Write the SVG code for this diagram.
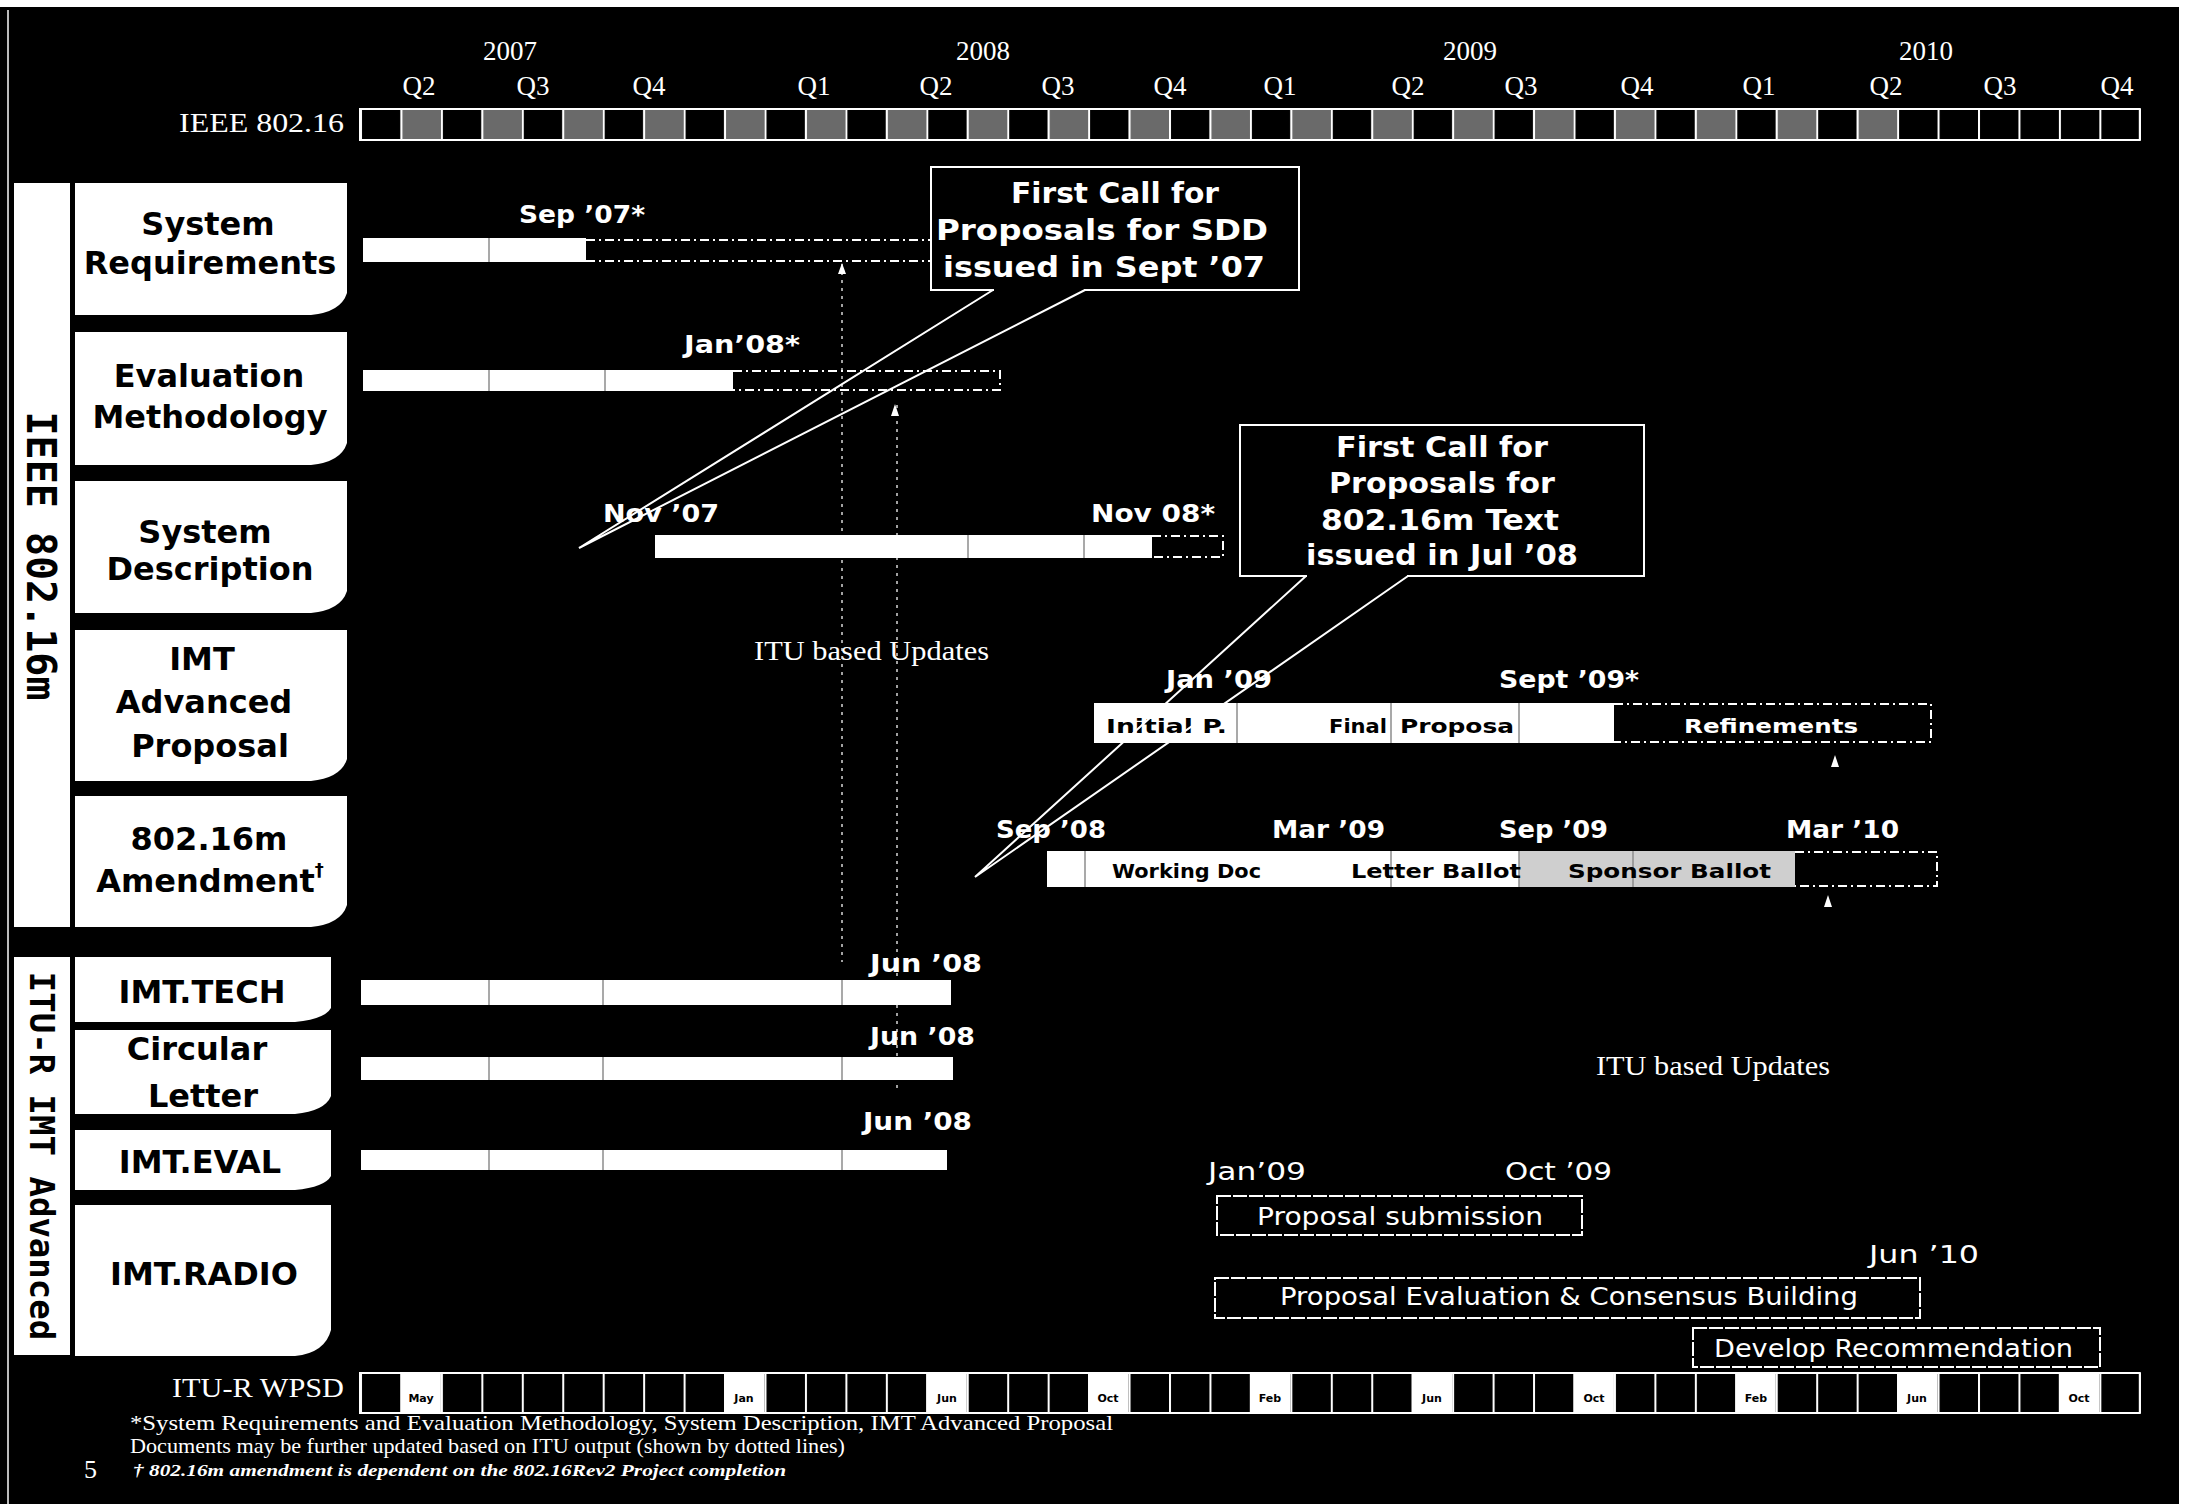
<svg xmlns="http://www.w3.org/2000/svg" width="2185" height="1504" viewBox="0 0 2185 1504">
<defs>
<style>
.bg{fill:#000}
.lbl{font-family:"DejaVu Sans",sans-serif;font-weight:bold;font-size:32px;fill:#000;text-anchor:middle}
.side{font-family:"DejaVu Sans Mono",monospace;font-weight:bold;fill:#000;text-anchor:middle}
.date{font-family:"DejaVu Sans",sans-serif;font-weight:bold;font-size:24px;fill:#fff}
.dater{font-family:"DejaVu Sans",sans-serif;font-size:24px;fill:#fff}
.intxt{font-family:"DejaVu Sans",sans-serif;font-weight:bold;font-size:20px;fill:#000}
.call{font-family:"DejaVu Sans",sans-serif;font-weight:bold;font-size:28px;fill:#fff}
.box{font-family:"DejaVu Sans",sans-serif;font-size:24px;fill:#fff}
.serif{font-family:"Liberation Serif","Times New Roman",serif;fill:#fff}
.hdr{font-family:"Liberation Serif","Times New Roman",serif;fill:#fff;font-size:27px;text-anchor:middle}
.bar{fill:#fff}
.dv{stroke:#8c8c8c;stroke-width:1.5}
.dash{fill:none;stroke:#fff;stroke-width:2;stroke-dasharray:9 4 2 4}
.dot{fill:none;stroke:#d8d8d8;stroke-width:1.5;stroke-dasharray:3 5}
.wedge{fill:none;stroke:#fff;stroke-width:2}
.cbox{fill:#000;stroke:#fff;stroke-width:2}
.obox{fill:none;stroke:#fff;stroke-width:2;stroke-dasharray:14 2}
.mk{fill:#fff}
.mon{font-family:"DejaVu Sans",sans-serif;font-weight:bold;font-size:11px;fill:#000;text-anchor:middle}
</style>
<pattern id="grid" x="360" y="0" width="40.45" height="1504" patternUnits="userSpaceOnUse">
<rect x="0" y="0" width="2" height="1504" fill="#fff"/>
</pattern>
<pattern id="alt" x="360" y="0" width="80.9" height="1504" patternUnits="userSpaceOnUse">
<rect x="40.45" y="0" width="40.45" height="1504" fill="#6a6a6a"/>
</pattern>
</defs>

<rect class="bg" x="0" y="0" width="2185" height="1504"/>
<rect x="0" y="0" width="2185" height="7" fill="#fff"/>
<rect x="2179" y="0" width="6" height="1504" fill="#fff"/>
<rect x="7" y="10" width="2" height="1494" fill="#bbb"/>

<g id="header">
<text class="hdr" x="510" y="60">2007</text>
<text class="hdr" x="983" y="60">2008</text>
<text class="hdr" x="1470" y="60">2009</text>
<text class="hdr" x="1926" y="60">2010</text>
<text class="hdr" x="419" y="95">Q2</text>
<text class="hdr" x="533" y="95">Q3</text>
<text class="hdr" x="649" y="95">Q4</text>
<text class="hdr" x="814" y="95">Q1</text>
<text class="hdr" x="936" y="95">Q2</text>
<text class="hdr" x="1058" y="95">Q3</text>
<text class="hdr" x="1170" y="95">Q4</text>
<text class="hdr" x="1280" y="95">Q1</text>
<text class="hdr" x="1408" y="95">Q2</text>
<text class="hdr" x="1521" y="95">Q3</text>
<text class="hdr" x="1637" y="95">Q4</text>
<text class="hdr" x="1759" y="95">Q1</text>
<text class="hdr" x="1886" y="95">Q2</text>
<text class="hdr" x="2000" y="95">Q3</text>
<text class="hdr" x="2117" y="95">Q4</text>
<text class="serif" x="179" y="132" font-size="28" textLength="165" lengthAdjust="spacingAndGlyphs">IEEE 802.16</text>
</g>

<g id="ieee-row">
<rect x="360" y="109" width="1779.8" height="31" fill="#000"/>
<rect x="360" y="109" width="1537.1" height="31" fill="url(#alt)"/>
<rect x="360" y="109" width="1781" height="31" fill="url(#grid)"/>
<rect x="360" y="109" width="1779.8" height="31" fill="none" stroke="#fff" stroke-width="2"/>
</g>

<g id="side-ieee">
<rect x="14" y="183" width="56" height="744" fill="#fff"/>
<text class="side" font-size="40" transform="translate(27,556) rotate(90)">IEEE 802.16m</text>
</g>
<g id="side-itu">
<rect x="14" y="957" width="56" height="398" fill="#fff"/>
<text class="side" font-size="34" transform="translate(30,1156) rotate(90)">ITU-R IMT Advanced</text>
</g>

<g id="lbl-sysreq">
<path d="M75,183 H347 V293 Q341,312 311,315 H75 Z" fill="#fff"/>
<text class="lbl" x="208" y="235">System</text>
<text class="lbl" x="210" y="274">Requirements</text>
</g>
<g id="lbl-evalmeth">
<path d="M75,332 H347 V443 Q341,462 311,465 H75 Z" fill="#fff"/>
<text class="lbl" x="209" y="387">Evaluation</text>
<text class="lbl" x="210" y="428">Methodology</text>
</g>
<g id="lbl-sysdesc">
<path d="M75,481 H347 V591 Q341,610 311,613 H75 Z" fill="#fff"/>
<text class="lbl" x="205" y="543">System</text>
<text class="lbl" x="210" y="580">Description</text>
</g>
<g id="lbl-imtadv">
<path d="M75,630 H347 V759 Q341,778 311,781 H75 Z" fill="#fff"/>
<text class="lbl" x="202" y="670">IMT</text>
<text class="lbl" x="204" y="713">Advanced</text>
<text class="lbl" x="210" y="757">Proposal</text>
</g>
<g id="lbl-amend">
<path d="M75,796 H347 V905 Q341,924 311,927 H75 Z" fill="#fff"/>
<text class="lbl" x="209" y="850">802.16m</text>
<text class="lbl" x="210" y="892">Amendment<tspan font-size="18" dy="-16">†</tspan></text>
</g>
<g id="lbl-imttech">
<path d="M75,957 H331 V1008 Q325,1019 295,1022 H75 Z" fill="#fff"/>
<text class="lbl" x="202" y="1003">IMT.TECH</text>
</g>
<g id="lbl-circ">
<path d="M75,1030 H331 V1096 Q325,1111 295,1114 H75 Z" fill="#fff"/>
<text class="lbl" x="197" y="1060">Circular</text>
<text class="lbl" x="203" y="1107">Letter</text>
</g>
<g id="lbl-imteval">
<path d="M75,1130 H331 V1176 Q325,1187 295,1190 H75 Z" fill="#fff"/>
<text class="lbl" x="200" y="1173">IMT.EVAL</text>
</g>
<g id="lbl-imtradio">
<path d="M75,1205 H331 V1330 Q325,1353 295,1356 H75 Z" fill="#fff"/>
<text class="lbl" x="204" y="1285">IMT.RADIO</text>
</g>

<g id="connectors-dotted">
<line class="dot" x1="842" y1="264" x2="842" y2="962"/>
<line class="dot" x1="897" y1="405" x2="897" y2="1088"/>
</g>

<g id="bar-sysreq">
<rect class="bar" x="363" y="238" width="223" height="24"/>
<line class="dv" x1="489" y1="238" x2="489" y2="262"/>
<line class="dash" x1="586" y1="240" x2="931" y2="240"/>
<line class="dash" x1="586" y1="261" x2="931" y2="261"/>
<text class="date" x="519" y="223" textLength="126" lengthAdjust="spacingAndGlyphs">Sep ’07*</text>
<polygon class="mk" points="842,263 838,274 846,274"/>
</g>
<g id="bar-evalmeth">
<rect class="bar" x="363" y="370" width="370" height="21"/>
<line class="dv" x1="489" y1="370" x2="489" y2="391"/>
<line class="dv" x1="605" y1="370" x2="605" y2="391"/>
<path class="dash" d="M733,371 H1000 V390 H733"/>
<text class="date" x="684" y="353" textLength="116" lengthAdjust="spacingAndGlyphs">Jan’08*</text>
<polygon class="mk" points="895,404 891,416 899,416"/>
</g>
<g id="bar-sysdesc">
<rect class="bar" x="655" y="535" width="497" height="23"/>
<line class="dv" x1="968" y1="535" x2="968" y2="558"/>
<line class="dv" x1="1084" y1="535" x2="1084" y2="558"/>
<path class="dash" d="M1152,536 H1223 V557 H1152"/>
<text class="date" x="603" y="522" textLength="116" lengthAdjust="spacingAndGlyphs">Nov ’07</text>
<text class="date" x="1091" y="522" textLength="124" lengthAdjust="spacingAndGlyphs">Nov 08*</text>
</g>
<g id="bar-imtadv">
<rect class="bar" x="1094" y="703" width="520" height="40"/>
<line class="dv" x1="1237" y1="703" x2="1237" y2="743"/>
<line class="dv" x1="1391" y1="703" x2="1391" y2="743"/>
<line class="dv" x1="1519" y1="703" x2="1519" y2="743"/>
<path class="dash" d="M1614,704 H1931 V742 H1614"/>
<text class="intxt" x="1106" y="733" textLength="121" lengthAdjust="spacingAndGlyphs">Initial P.</text>
<text class="intxt" x="1329" y="733" textLength="58" lengthAdjust="spacingAndGlyphs">Final</text>
<text class="intxt" x="1400" y="733" textLength="114" lengthAdjust="spacingAndGlyphs">Proposa</text>
<text class="intxt" x="1684" y="733" style="fill:#fff" textLength="174" lengthAdjust="spacingAndGlyphs">Refinements</text>
<text class="date" x="1166" y="688" textLength="106" lengthAdjust="spacingAndGlyphs">Jan ’09</text>
<text class="date" x="1499" y="688" textLength="140" lengthAdjust="spacingAndGlyphs">Sept ’09*</text>
<polygon class="mk" points="1835,755 1831,767 1839,767"/>
</g>
<g id="bar-amend">
<rect class="bar" x="1047" y="851" width="748" height="36"/>
<rect x="1519" y="851" width="276" height="36" fill="#cfcfcf"/>
<line class="dv" x1="1085" y1="851" x2="1085" y2="887"/>
<line class="dv" x1="1391" y1="851" x2="1391" y2="887"/>
<line class="dv" x1="1519" y1="851" x2="1519" y2="887"/>
<line class="dv" x1="1633" y1="851" x2="1633" y2="887"/>
<path class="dash" d="M1795,852 H1937 V886 H1795"/>
<text class="intxt" x="1112" y="878" font-size="18" textLength="149" lengthAdjust="spacingAndGlyphs">Working Doc</text>
<text class="intxt" x="1351" y="878" textLength="170" lengthAdjust="spacingAndGlyphs">Letter Ballot</text>
<text class="intxt" x="1568" y="878" textLength="203" lengthAdjust="spacingAndGlyphs">Sponsor Ballot</text>
<text class="date" x="996" y="838" textLength="110" lengthAdjust="spacingAndGlyphs">Sep ’08</text>
<text class="date" x="1272" y="838" textLength="113" lengthAdjust="spacingAndGlyphs">Mar ’09</text>
<text class="date" x="1499" y="838" textLength="109" lengthAdjust="spacingAndGlyphs">Sep ’09</text>
<text class="date" x="1786" y="838" textLength="113" lengthAdjust="spacingAndGlyphs">Mar ’10</text>
<polygon class="mk" points="1828,895 1824,907 1832,907"/>
</g>

<g id="updates-notes">
<text class="serif" x="754" y="660" font-size="27" textLength="235" lengthAdjust="spacingAndGlyphs">ITU based Updates</text>
<text class="serif" x="1596" y="1075" font-size="27" textLength="234" lengthAdjust="spacingAndGlyphs">ITU based Updates</text>
</g>

<g id="bar-imttech">
<rect class="bar" x="361" y="980" width="590" height="25"/>
<line class="dv" x1="489" y1="980" x2="489" y2="1005"/>
<line class="dv" x1="603" y1="980" x2="603" y2="1005"/>
<line class="dv" x1="842" y1="980" x2="842" y2="1005"/>
<text class="date" x="870" y="972" textLength="112" lengthAdjust="spacingAndGlyphs">Jun ’08</text>
</g>
<g id="bar-circ">
<rect class="bar" x="361" y="1057" width="592" height="23"/>
<line class="dv" x1="489" y1="1057" x2="489" y2="1080"/>
<line class="dv" x1="603" y1="1057" x2="603" y2="1080"/>
<line class="dv" x1="842" y1="1057" x2="842" y2="1080"/>
<text class="date" x="870" y="1045" textLength="105" lengthAdjust="spacingAndGlyphs">Jun ’08</text>
</g>
<g id="bar-imteval">
<rect class="bar" x="361" y="1150" width="586" height="20"/>
<line class="dv" x1="489" y1="1150" x2="489" y2="1170"/>
<line class="dv" x1="603" y1="1150" x2="603" y2="1170"/>
<line class="dv" x1="842" y1="1150" x2="842" y2="1170"/>
<text class="date" x="863" y="1130" textLength="109" lengthAdjust="spacingAndGlyphs">Jun ’08</text>
</g>

<g id="radio-submission">
<rect class="obox" x="1217" y="1196" width="365" height="39"/>
<text class="box" x="1257" y="1225" textLength="286" lengthAdjust="spacingAndGlyphs">Proposal submission</text>
<text class="dater" x="1208" y="1180" textLength="98" lengthAdjust="spacingAndGlyphs">Jan’09</text>
<text class="dater" x="1505" y="1180" textLength="107" lengthAdjust="spacingAndGlyphs">Oct ’09</text>
</g>
<g id="radio-eval">
<rect class="obox" x="1215" y="1278" width="705" height="40"/>
<text class="box" x="1280" y="1305" textLength="578" lengthAdjust="spacingAndGlyphs">Proposal Evaluation &amp; Consensus Building</text>
<text class="dater" x="1869" y="1263" textLength="110" lengthAdjust="spacingAndGlyphs">Jun ’10</text>
</g>
<g id="radio-develop">
<rect class="obox" x="1693" y="1328" width="407" height="39"/>
<text class="box" x="1714" y="1357" textLength="359" lengthAdjust="spacingAndGlyphs">Develop Recommendation</text>
</g>

<g id="callout-sdd">
<rect class="cbox" x="931" y="167" width="368" height="123"/>
<line x1="994" y1="290" x2="1084" y2="290" stroke="#000" stroke-width="4"/>
<text class="call" x="1011" y="203" textLength="208" lengthAdjust="spacingAndGlyphs">First Call for</text>
<text class="call" x="936" y="240" textLength="332" lengthAdjust="spacingAndGlyphs">Proposals for SDD</text>
<text class="call" x="943" y="277" textLength="322" lengthAdjust="spacingAndGlyphs">issued in Sept ’07</text>
</g>
<g id="callout-16m">
<rect class="cbox" x="1240" y="425" width="404" height="151"/>
<line x1="1307" y1="576" x2="1407" y2="576" stroke="#000" stroke-width="4"/>
<text class="call" x="1336" y="457" textLength="212" lengthAdjust="spacingAndGlyphs">First Call for</text>
<text class="call" x="1329" y="493" textLength="226" lengthAdjust="spacingAndGlyphs">Proposals for</text>
<text class="call" x="1321" y="530" textLength="238" lengthAdjust="spacingAndGlyphs">802.16m Text</text>
<text class="call" x="1306" y="565" textLength="272" lengthAdjust="spacingAndGlyphs">issued in Jul ’08</text>
</g>

<g id="connectors">
<polyline class="wedge" points="993,290 579,548 1085,290"/>
<polyline class="wedge" points="1306,576 975,877 1408,576"/>
</g>

<g id="wpsd-row">
<rect x="360" y="1373" width="1779.8" height="40" fill="#000"/>
<rect x="400.45" y="1373" width="40.45" height="40" fill="#fff"/>
<rect x="724.05" y="1373" width="40.45" height="40" fill="#fff"/>
<rect x="926.3" y="1373" width="40.45" height="40" fill="#fff"/>
<rect x="1088.1" y="1373" width="40.45" height="40" fill="#fff"/>
<rect x="1249.9" y="1373" width="40.45" height="40" fill="#fff"/>
<rect x="1411.7" y="1373" width="40.45" height="40" fill="#fff"/>
<rect x="1573.5" y="1373" width="40.45" height="40" fill="#fff"/>
<rect x="1735.3" y="1373" width="40.45" height="40" fill="#fff"/>
<rect x="1897.1" y="1373" width="40.45" height="40" fill="#fff"/>
<rect x="2058.9" y="1373" width="40.45" height="40" fill="#fff"/>
<rect x="360" y="1373" width="1781" height="40" fill="url(#grid)"/>
<rect x="360" y="1373" width="1779.8" height="40" fill="none" stroke="#fff" stroke-width="2"/>
<text class="mon" x="421" y="1402">May</text>
<text class="mon" x="744" y="1402">Jan</text>
<text class="mon" x="947" y="1402">Jun</text>
<text class="mon" x="1108" y="1402">Oct</text>
<text class="mon" x="1270" y="1402">Feb</text>
<text class="mon" x="1432" y="1402">Jun</text>
<text class="mon" x="1594" y="1402">Oct</text>
<text class="mon" x="1756" y="1402">Feb</text>
<text class="mon" x="1917" y="1402">Jun</text>
<text class="mon" x="2079" y="1402">Oct</text>
<text class="serif" x="172" y="1397" font-size="27" textLength="172" lengthAdjust="spacingAndGlyphs">ITU-R WPSD</text>
</g>

<g id="footnotes">
<text class="serif" x="130" y="1430" font-size="22" textLength="983" lengthAdjust="spacingAndGlyphs">*System Requirements and Evaluation Methodology, System Description, IMT Advanced Proposal</text>
<text class="serif" x="130" y="1453" font-size="22" textLength="715" lengthAdjust="spacingAndGlyphs">Documents may be further updated based on ITU output (shown by dotted lines)</text>
<text class="serif" x="133" y="1476" font-size="17" font-style="italic" font-weight="bold" textLength="653" lengthAdjust="spacingAndGlyphs">† 802.16m amendment is dependent on the 802.16Rev2 Project completion</text>
<text class="serif" x="84" y="1478" font-size="26">5</text>
</g>
</svg>
